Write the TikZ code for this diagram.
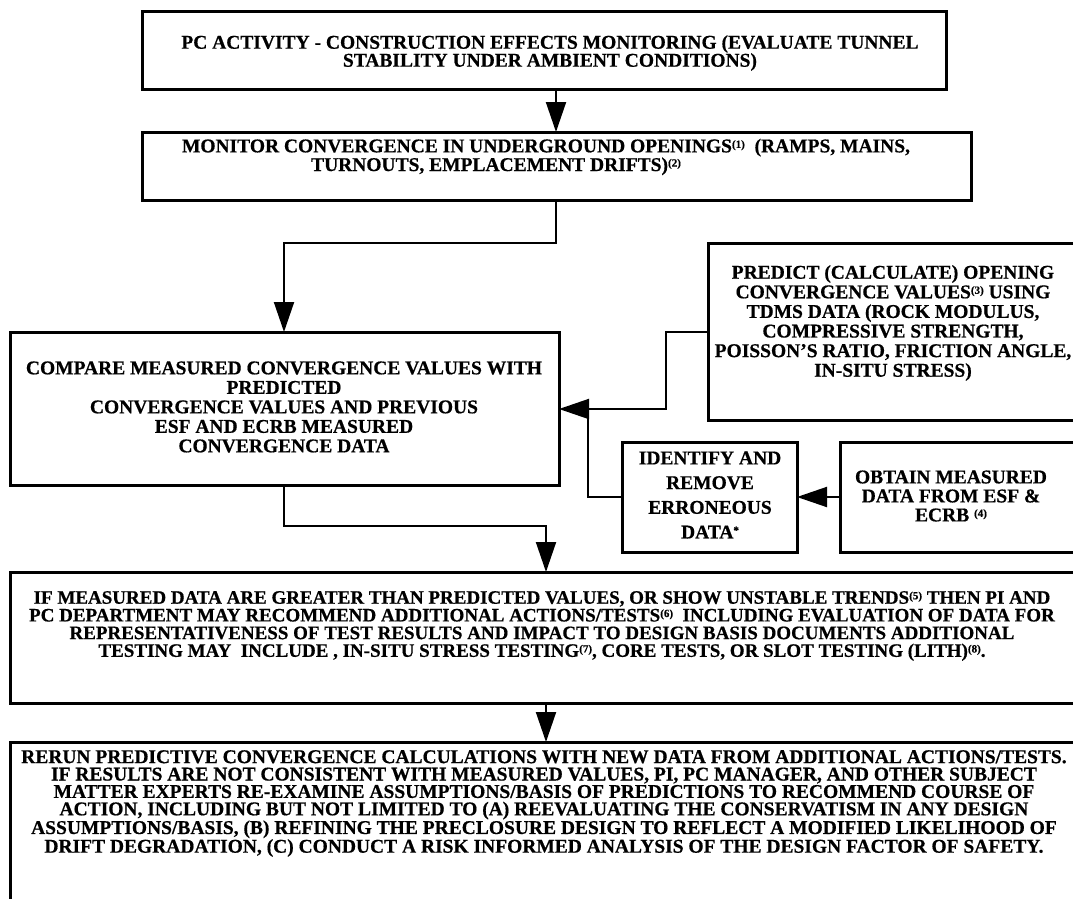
\documentclass[tikz,border=0pt]{standalone}
\usepackage{fontspec}
\setmainfont{Liberation Serif}[BoldFeatures={FakeBold=0.6}]
\usetikzlibrary{arrows.meta}
\newcommand\supmark[1]{\raisebox{0.5ex}{\fontsize{11}{11}\selectfont #1}}
\begin{document}
\begin{tikzpicture}[x=1pt,y=-1pt,
  box/.style={draw, line width=3pt, inner sep=0pt, outer sep=0pt},
  conn/.style={line width=2pt},
  arr/.style={conn, -{Triangle[length=30pt,width=20pt]}},
  txt/.style={align=center, inner sep=0pt, font=\bfseries\fontsize{19.5}{#1}\selectfont},
  txtb/.style={align=center, inner sep=0pt, font=\bfseries\fontsize{19}{#1}\selectfont}]
\useasboundingbox (0,0) rectangle (1073,899);
\fill[white] (0,0) rectangle (1073,899);
\clip (0,0) rectangle (1073,899);
% boxes
\node[box, minimum width=804pt, minimum height=77pt] (b1) at (544,50.5) {};
\node[box, minimum width=829pt, minimum height=68pt] (b2) at (556.5,166) {};
\node[box, minimum width=549pt, minimum height=153pt] (b3) at (284.5,408.5) {};
\node[box, minimum width=377pt, minimum height=177pt] (b4) at (896.5,331.5) {};
\node[box, minimum width=175pt, minimum height=110pt] (b5) at (709.5,497) {};
\node[box, minimum width=245pt, minimum height=110pt] (b6) at (962.5,497) {};
\node[box, minimum width=1075pt, minimum height=131pt] (b7) at (547.5,637.5) {};
\node[box, minimum width=1075pt, minimum height=178pt] (b8) at (547.5,831) {};
% texts
\node[txt=18] (t1) at (550,53) {PC ACTIVITY - CONSTRUCTION EFFECTS MONITORING (EVALUATE TUNNEL\\STABILITY UNDER AMBIENT CONDITIONS)};
\node[txt=16.5] (t2) at (546,157) {MONITOR CONVERGENCE IN UNDERGROUND OPENINGS\supmark{(1)}\ \ (RAMPS, MAINS,\\TURNOUTS, EMPLACEMENT DRIFTS)\supmark{(2)}\hspace*{100pt}};
\node[txt=19.5] (t3) at (284,407) {COMPARE MEASURED CONVERGENCE VALUES WITH\\PREDICTED\\CONVERGENCE VALUES AND PREVIOUS\\ESF AND ECRB MEASURED\\CONVERGENCE DATA};
\node[txt=19.6] (t4) at (893,323) {PREDICT (CALCULATE) OPENING\\CONVERGENCE VALUES\supmark{(3)} USING\\TDMS DATA (ROCK MODULUS,\\COMPRESSIVE STRENGTH,\\POISSON'S RATIO, FRICTION ANGLE,\\IN-SITU STRESS)};
\node[txt=24.7] (t5) at (710,495) {IDENTIFY AND\\REMOVE\\ERRONEOUS\\DATA\supmark{*}};
\node[txt=19] (t6) at (951,496) {OBTAIN MEASURED\\DATA FROM ESF \&\\ECRB \supmark{(4)}};
\node[txtb=17.7] (t7) at (542,626) {IF MEASURED DATA ARE GREATER THAN PREDICTED VALUES, OR SHOW UNSTABLE TRENDS\supmark{(5)} THEN PI AND\\PC DEPARTMENT MAY RECOMMEND ADDITIONAL ACTIONS/TESTS\supmark{(6)}\ \ INCLUDING EVALUATION OF DATA FOR\\REPRESENTATIVENESS OF TEST RESULTS AND IMPACT TO DESIGN BASIS DOCUMENTS ADDITIONAL\\TESTING MAY\ \ INCLUDE , IN-SITU STRESS TESTING\supmark{(7)}, CORE TESTS, OR SLOT TESTING (LITH)\supmark{(8)}.};
\node[txt=17.4] (t8) at (544,803.5) {RERUN PREDICTIVE CONVERGENCE CALCULATIONS WITH NEW DATA FROM ADDITIONAL ACTIONS/TESTS.\\IF RESULTS ARE NOT CONSISTENT WITH MEASURED VALUES, PI, PC MANAGER, AND OTHER SUBJECT\\MATTER EXPERTS RE-EXAMINE ASSUMPTIONS/BASIS OF PREDICTIONS TO RECOMMEND COURSE OF\\ACTION, INCLUDING BUT NOT LIMITED TO (A) REEVALUATING THE CONSERVATISM IN ANY DESIGN\\ASSUMPTIONS/BASIS, (B) REFINING THE PRECLOSURE DESIGN TO REFLECT A MODIFIED LIKELIHOOD OF\\DRIFT DEGRADATION, (C) CONDUCT A RISK INFORMED ANALYSIS OF THE DESIGN FACTOR OF SAFETY.};
% helper coordinates
\coordinate (xa) at (556,0);
\coordinate (xb) at (284,0);
\coordinate (xc) at (546,0);
\coordinate (xd) at (666,0);
\coordinate (ya) at (0,409);
\coordinate (yb) at (0,332);
\coordinate (j) at (588,409);
% connectors
\draw[arr] (b1.south -| xa) -- (b2.north -| xa);
\draw[arr] (b2.south -| xa) -- ++(0,43) -| (b3.north -| xb);
\draw[arr] (b4.west |- yb) -| (xd |- ya) -- (b3.east |- ya);
\draw[conn] (b5.west) -| (j);
\draw[arr] (b6.west) -- (b5.east);
\draw[arr] (b3.south -| xb) -- ++(0,41) -| (b7.north -| xc);
\draw[arr] (b7.south -| xc) -- (b8.north -| xc);
\end{tikzpicture}
\end{document}
